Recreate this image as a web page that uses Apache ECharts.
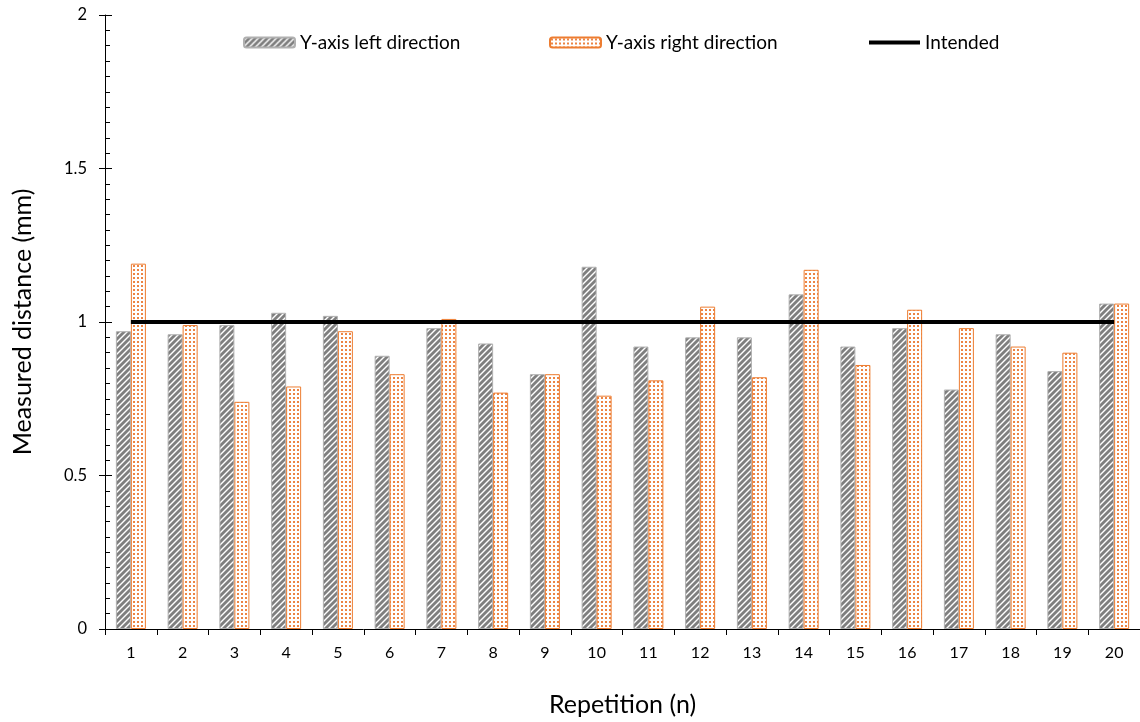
<!DOCTYPE html>
<html>
<head>
<meta charset="utf-8">
<script src="https://cdn.jsdelivr.net/npm/echarts@6/dist/echarts.min.js"></script>
<style>
html,body{margin:0;padding:0;background:#fff;}
#chart{width:1140px;height:722px;}
</style>
</head>
<body>
<div id="chart"></div>
<script>
// ---- data ----
const categories = ['1','2','3','4','5','6','7','8','9','10','11','12','13','14','15','16','17','18','19','20'];
const leftDirection = [0.97,0.96,0.99,1.03,1.02,0.89,0.98,0.93,0.83,1.18,0.92,0.95,0.95,1.09,0.92,0.98,0.78,0.96,0.84,1.06];
const rightDirection = [1.19,0.99,0.74,0.79,0.97,0.83,1.01,0.77,0.83,0.76,0.81,1.05,0.82,1.17,0.86,1.04,0.98,0.92,0.90,1.06];
const intended = [1,1,1,1,1,1,1,1,1,1,1,1,1,1,1,1,1,1,1,1];
const seriesNames = ['Y-axis left direction','Y-axis right direction','Intended'];
const yTicks = {min:0, max:2, interval:0.5};

// ---- patterns ----
function stripePattern(){
  const c = document.createElement('canvas');
  c.width = 6; c.height = 6;
  const g = c.getContext('2d');
  g.fillStyle = '#ffffff'; g.fillRect(0,0,6,6);
  g.strokeStyle = '#7f7f7f'; g.lineWidth = 2.8;
  for (let k=-1;k<=1;k++){
    g.beginPath(); g.moveTo(-1+k*6,7); g.lineTo(7+k*6,-1); g.stroke();
  }
  return c;
}
function dotPattern(){
  const c = document.createElement('canvas');
  c.width = 4; c.height = 4;
  const g = c.getContext('2d');
  g.fillStyle = '#ffffff'; g.fillRect(0,0,4,4);
  g.fillStyle = '#ec8443'; g.fillRect(1,1,2,2);
  return c;
}

const FONT = 'Lato, "Open Sans", sans-serif';
const legendText = {fontFamily:FONT,fontSize:19,color:'#000'};
const legendBase = {top:33, itemWidth:51, itemHeight:10, padding:0, textStyle:legendText};
const chart = echarts.init(document.getElementById('chart'), null, {renderer:'canvas'});
chart.setOption({
  animation:false,
  backgroundColor:'#ffffff',
  textStyle:{fontFamily:FONT,color:'#000'},
  grid:{left:105,right:-2,top:15,bottom:93,containLabel:false},
  legend:[
    Object.assign({left:243, data:[{name:seriesNames[0]}]}, legendBase),
    Object.assign({left:549, data:[{name:seriesNames[1]}]}, legendBase),
    Object.assign({left:867, data:[{name:seriesNames[2], itemStyle:{opacity:0}, lineStyle:{width:4,color:'#000'}}]}, legendBase)
  ],
  xAxis:{
    type:'category', data:categories,
    axisLine:{lineStyle:{color:'#000',width:1}},
    axisTick:{show:true,alignWithLabel:false,length:6,lineStyle:{color:'#000'}},
    axisLabel:{fontFamily:FONT,fontSize:16,color:'#000',margin:16},
    name:'Repetition (n)', nameLocation:'middle', nameGap:63,
    nameTextStyle:{fontFamily:FONT,fontSize:25,color:'#000'}
  },
  yAxis:[{
    type:'value', min:yTicks.min, max:yTicks.max, interval:yTicks.interval, position:'left',
    axisLine:{show:true,lineStyle:{color:'#000',width:1}},
    axisTick:{show:true,length:6,lineStyle:{color:'#000'}},
    splitLine:{show:false},
    axisLabel:{fontFamily:FONT,fontSize:16.5,color:'#000',margin:18},
    name:'Measured distance (mm)', nameLocation:'middle', nameGap:70,
    nameTextStyle:{fontFamily:FONT,fontSize:25,color:'#000'}
  },{
    type:'value', min:yTicks.min, max:yTicks.max, interval:yTicks.interval, position:'left', offset:0,
    axisLine:{show:false},
    axisTick:{show:true,inside:true,length:7,lineStyle:{color:'#000'}},
    minorTick:{show:true,splitNumber:10,length:5,lineStyle:{color:'#000'}},
    splitLine:{show:false},
    axisLabel:{show:false}
  }],
  series:[{
    name:seriesNames[0], type:'bar', data:leftDirection, barWidth:15, barGap:'0%',
    itemStyle:{color:{image:stripePattern(),repeat:'repeat'},borderColor:'#b0b0b0',borderWidth:1}
  },{
    name:seriesNames[1], type:'bar', data:rightDirection, barWidth:15, barGap:'0%',
    itemStyle:{color:{image:dotPattern(),repeat:'repeat'},borderColor:'#ed7d31',borderWidth:1}
  },{
    name:seriesNames[2], type:'line', data:intended, symbol:'none', z:5,
    lineStyle:{color:'#000',width:4}, itemStyle:{color:'#000'}
  }]
});
</script>
</body>
</html>
